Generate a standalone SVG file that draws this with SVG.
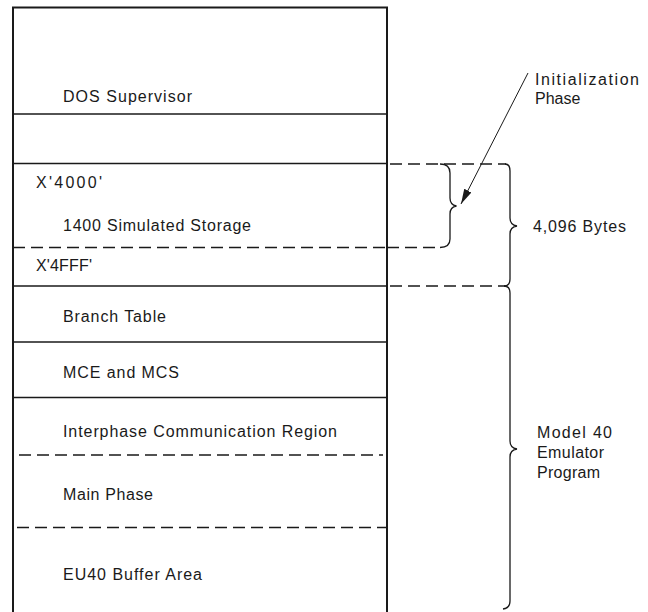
<svg xmlns="http://www.w3.org/2000/svg" width="648" height="612" viewBox="0 0 648 612">
<style>
text{font-family:"Liberation Sans","DejaVu Sans",sans-serif;font-size:16px;fill:#1a1a1a}
.solid{stroke:#1a1a1a;stroke-width:1.6;fill:none}
.edge{stroke:#1a1a1a;stroke-width:2;fill:none}
.dash{stroke:#1a1a1a;stroke-width:1.4;fill:none;stroke-dasharray:12 6}
.brace{stroke:#1a1a1a;stroke-width:1.3;fill:none}
.arrow{stroke:#1a1a1a;stroke-width:1;fill:none}
</style>
<defs>
<marker id="ah" markerWidth="16" markerHeight="10" refX="15" refY="5" orient="auto" markerUnits="userSpaceOnUse">
<path d="M0,1 L15,5 L0,9 Z" fill="#1a1a1a"/>
</marker>
</defs>
<rect width="648" height="612" fill="#ffffff"/>
<g id="storage-map">
<path class="edge" d="M13,612 L13,7.5 L387,7.5 L387,612"/>
</g>
<g id="dos-supervisor">
<line class="solid" x1="13" y1="114" x2="387" y2="114"/>
<text x="63" y="102" textLength="129" lengthAdjust="spacing">DOS Supervisor</text>
</g>
<g id="gap-region">
<line class="solid" x1="13" y1="163.5" x2="387" y2="163.5"/>
</g>
<g id="simulated-storage">
<text x="36" y="188" textLength="66" lengthAdjust="spacing">X'4000'</text>
<text x="63" y="231" textLength="188" lengthAdjust="spacing">1400 Simulated Storage</text>
<line class="dash" x1="13" y1="247.5" x2="387" y2="247.5"/>
</g>
<g id="end-address">
<text x="36" y="271" textLength="56" lengthAdjust="spacing">X'4FFF'</text>
<line class="solid" x1="13" y1="286" x2="387" y2="286"/>
</g>
<g id="branch-table">
<text x="63" y="322" textLength="103" lengthAdjust="spacing">Branch Table</text>
<line class="solid" x1="13" y1="342" x2="387" y2="342"/>
</g>
<g id="mce-mcs">
<text x="63" y="378" textLength="116" lengthAdjust="spacing">MCE and MCS</text>
<line class="solid" x1="13" y1="397.5" x2="387" y2="397.5"/>
</g>
<g id="interphase">
<text x="63" y="437" textLength="274" lengthAdjust="spacing">Interphase Communication Region</text>
<line class="dash" x1="19" y1="455" x2="383" y2="455"/>
</g>
<g id="main-phase">
<text x="63" y="500" textLength="90" lengthAdjust="spacing">Main Phase</text>
<line class="dash" x1="17" y1="527.5" x2="387" y2="527.5"/>
</g>
<g id="buffer-area">
<text x="63" y="580" textLength="139" lengthAdjust="spacing">EU40 Buffer Area</text>
</g>
<g id="label-initialization">
<text x="535" y="85" textLength="104" lengthAdjust="spacing">Initialization</text>
<text x="535" y="104">Phase</text>
</g>
<g id="label-bytes">
<text x="533" y="232" textLength="93" lengthAdjust="spacing">4,096 Bytes</text>
</g>
<g id="label-emulator">
<text x="537" y="438" textLength="75" lengthAdjust="spacing">Model 40</text>
<text x="537" y="458" textLength="67" lengthAdjust="spacing">Emulator</text>
<text x="537" y="478" textLength="63" lengthAdjust="spacing">Program</text>
</g>
<g id="connectors">
<line class="dash" x1="390" y1="164" x2="506" y2="164"/>
<line class="dash" x1="387" y1="247.5" x2="441" y2="247.5"/>
<line class="dash" x1="390" y1="286" x2="505" y2="286"/>
<path class="brace" d="M440,164 Q450,164 450,173 L450,198 Q450,205 456.5,206 Q450,207 450,214 L450,239 Q450,247.5 440,247.5"/>
<path class="brace" d="M505,164 Q510,164 510,171 L510,218 Q510,225 517,226 Q510,227 510,234 L510,279 Q510,286 504,286"/>
<path class="brace" d="M504,286 Q510,286 510,293 L510,441 Q510,448 517,449 Q510,450 510,457 L510,601 Q510,608 503,609"/>
<line class="arrow" x1="528" y1="73" x2="461" y2="204" marker-end="url(#ah)"/>
</g>
</svg>
